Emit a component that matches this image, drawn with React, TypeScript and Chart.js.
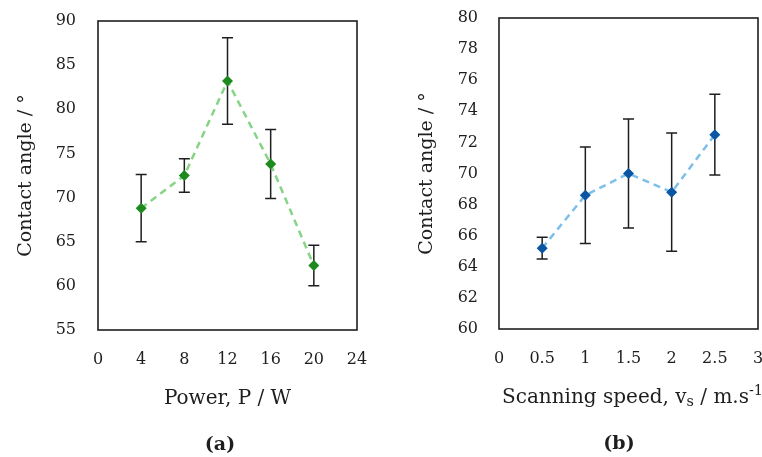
import React, { useEffect, useRef } from 'react';
import { Chart, registerables } from 'chart.js';

Chart.register(...registerables);

// ---------- data ----------
const powerW = [4, 8, 12, 16, 20];
const angleA = [68.8, 72.5, 83.2, 73.8, 62.3];
const errA = [3.8, 1.9, 4.9, 3.9, 2.3];

const speedB = [0.5, 1, 1.5, 2, 2.5];
const angleB = [65.2, 68.6, 70.0, 68.8, 72.5];
const errB = [0.7, 3.1, 3.5, 3.8, 2.6];

const yTitle = 'Contact angle / °';
type Seg = { t: string; kind?: 'sub' | 'sup' };
const xTitleA: Seg[] = [{ t: 'Power, P / W' }];
const xTitleB: Seg[] = [
  { t: 'Scanning speed, v' },
  { t: 's', kind: 'sub' },
  { t: ' / m.s' },
  { t: '-1', kind: 'sup' },
];
const panelA = '(a)';
const panelB = '(b)';

const FONT = "'DejaVu Serif', 'Liberation Serif', serif";
const INK = '#1e1e1e';
const CLEAR = 'rgba(0,0,0,0)';

function drawRich(ctx: CanvasRenderingContext2D, segs: Seg[], cx: number, cy: number, size: number, bold = false) {
  const fontFor = (s: Seg) => `${bold ? 'bold ' : ''}${s.kind ? size * 0.72 : size}px ${FONT}`;
  const widths = segs.map((s) => {
    ctx.font = fontFor(s);
    return ctx.measureText(s.t).width;
  });
  const total = widths.reduce((a, b) => a + b, 0);
  let x = cx - total / 2;
  const base = cy + size * 0.36;
  ctx.textAlign = 'left';
  ctx.textBaseline = 'alphabetic';
  ctx.fillStyle = INK;
  segs.forEach((s, i) => {
    ctx.font = fontFor(s);
    const dy = s.kind === 'sub' ? size * 0.16 : s.kind === 'sup' ? -size * 0.4 : 0;
    ctx.fillText(s.t, x, base + dy);
    x += widths[i];
  });
}

function makePlugins(xs: number[], ys: number[], errs: number[], xTitle: Seg[], panel: string, panelX: number, titleShift: number) {
  return [
    {
      id: 'frameAndErrors',
      beforeDatasetsDraw(chart: any) {
        const { ctx, chartArea: a, scales } = chart;
        ctx.save();
        ctx.strokeStyle = INK;
        ctx.lineWidth = 1.6;
        ctx.strokeRect(a.left, a.top, a.right - a.left, a.bottom - a.top);
        ctx.lineWidth = 1.5;
        xs.forEach((xv, i) => {
          const px = scales.x.getPixelForValue(xv);
          const top = scales.y.getPixelForValue(ys[i] + errs[i]);
          const bot = scales.y.getPixelForValue(ys[i] - errs[i]);
          ctx.beginPath();
          ctx.moveTo(px, top);
          ctx.lineTo(px, bot);
          ctx.moveTo(px - 5.5, top);
          ctx.lineTo(px + 5.5, top);
          ctx.moveTo(px - 5.5, bot);
          ctx.lineTo(px + 5.5, bot);
          ctx.stroke();
        });
        ctx.restore();
      },
    },
    {
      id: 'bottomTexts',
      afterDraw(chart: any) {
        const { ctx, chartArea: a } = chart;
        ctx.save();
        drawRich(ctx, xTitle, (a.left + a.right) / 2 + titleShift, a.bottom + 67, 20);
        drawRich(ctx, [{ t: panel }], panelX, a.bottom + 113, 19, true);
        ctx.restore();
      },
    },
  ];
}

function buildConfig(opts: {
  xs: number[]; ys: number[]; errs: number[];
  xMin: number; xMax: number; xStep: number;
  yMin: number; yMax: number; yStep: number;
  line: string; marker: string;
  padTop: number; padRight: number; yWidth: number; xHeight: number;
  yTickPad: number; yTitlePad: number;
  xTitle: Seg[]; panel: string; panelX: number; titleShift: number;
}) {
  const tickFont = { family: FONT, size: 16 };
  return {
    type: 'line' as const,
    data: {
      datasets: [
        {
          data: opts.xs.map((x, i) => ({ x, y: opts.ys[i] })),
          borderColor: opts.line,
          borderWidth: 2.5,
          borderDash: [7, 5],
          tension: 0,
          fill: false,
          pointStyle: 'rectRot',
          pointRadius: 5.5,
          pointBackgroundColor: opts.marker,
          pointBorderColor: opts.marker,
          pointBorderWidth: 0,
        },
      ],
    },
    options: {
      responsive: false,
      animation: false as const,
      devicePixelRatio: 1,
      layout: { padding: { left: 0, top: opts.padTop, right: opts.padRight, bottom: 0 } },
      plugins: { legend: { display: false }, tooltip: { enabled: false } },
      scales: {
        x: {
          type: 'linear' as const,
          min: opts.xMin,
          max: opts.xMax,
          ticks: {
            stepSize: opts.xStep, padding: 0, color: INK, font: tickFont, maxRotation: 0, autoSkip: false,
            callback: (v: any) => String(Number(v)),
          },
          grid: { display: true, drawOnChartArea: false, drawTicks: true, tickLength: 20, color: CLEAR },
          border: { display: false },
          afterFit: (s: any) => { s.height = opts.xHeight; },
        },
        y: {
          type: 'linear' as const,
          min: opts.yMin,
          max: opts.yMax,
          ticks: {
            stepSize: opts.yStep, padding: 0, color: INK, font: tickFont, autoSkip: false,
            callback: (v: any) => String(Number(v)),
          },
          grid: { display: true, drawOnChartArea: false, drawTicks: true, tickLength: opts.yTickPad, color: CLEAR },
          border: { display: false },
          title: {
            display: true,
            text: yTitle,
            color: INK,
            font: { family: FONT, size: 19 },
            padding: { top: opts.yTitlePad, bottom: 0 },
          },
          afterFit: (s: any) => { s.width = opts.yWidth; },
        },
      },
    },
    plugins: makePlugins(opts.xs, opts.ys, opts.errs, opts.xTitle, opts.panel, opts.panelX, opts.titleShift),
  };
}

export default function App() {
  const refA = useRef<HTMLCanvasElement>(null);
  const refB = useRef<HTMLCanvasElement>(null);

  useEffect(() => {
    document.body.style.margin = '0';
    const a = new Chart(refA.current as HTMLCanvasElement, buildConfig({
      xs: powerW, ys: angleA, errs: errA,
      xMin: 0, xMax: 24, xStep: 4,
      yMin: 55, yMax: 90, yStep: 5,
      line: '#86d486', marker: '#1e8a1e',
      padTop: 21, padRight: 24, yWidth: 98, xHeight: 127,
      yTickPad: 22, yTitlePad: 15,
      xTitle: xTitleA, panel: panelA, panelX: 220, titleShift: 0,
    }) as any);
    const b = new Chart(refB.current as HTMLCanvasElement, buildConfig({
      xs: speedB, ys: angleB, errs: errB,
      xMin: 0, xMax: 3, xStep: 0.5,
      yMin: 60, yMax: 80, yStep: 2,
      line: '#7cbfea', marker: '#0b56a3',
      padTop: 18, padRight: 13, yWidth: 118, xHeight: 128,
      yTickPad: 21, yTitlePad: 35,
      xTitle: xTitleB, panel: panelB, panelX: 238, titleShift: 4,
    }) as any);
    return () => {
      a.destroy();
      b.destroy();
    };
  }, []);

  return (
    <div style={{ position: 'relative', width: 762, height: 457, overflow: 'hidden', background: '#fff' }}>
      <canvas ref={refA} width={381} height={457} style={{ position: 'absolute', left: 0, top: 0 }} />
      <canvas ref={refB} width={390} height={457} style={{ position: 'absolute', left: 381, top: 0 }} />
    </div>
  );
}
